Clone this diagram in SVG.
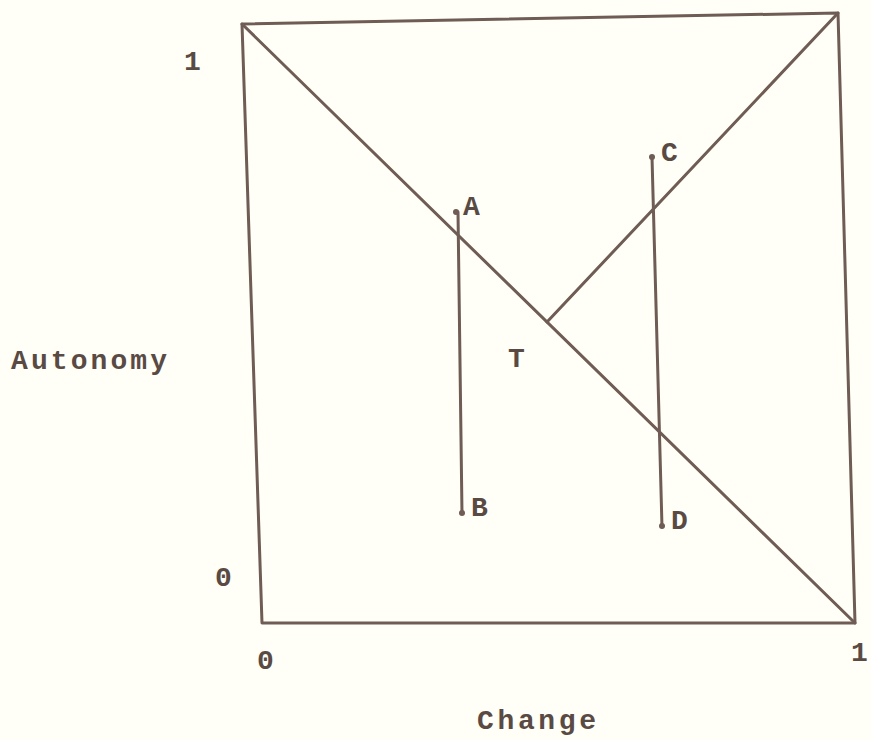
<svg xmlns="http://www.w3.org/2000/svg" width="871" height="740" viewBox="0 0 871 740">
<style>
.ln{stroke:#6e5c55;stroke-width:3;fill:none;stroke-linecap:round;stroke-linejoin:round}
.lb{font-family:"Liberation Mono","DejaVu Sans Mono",monospace;fill:#5a4a44;font-size:28px;font-weight:bold}
.pt{fill:#6e5c55}
</style>
<rect width="871" height="740" fill="#fffff7"/>
<g id="frame">
<path class="ln" d="M242,24 L838,13 L855,623 L262,623 Z"/>
</g>
<g id="connectors">
<line class="ln" x1="242" y1="24" x2="855" y2="623"/>
<line class="ln" x1="547" y1="322" x2="838" y2="13"/>
<line class="ln" x1="458" y1="212" x2="462" y2="513"/>
<line class="ln" x1="652" y1="157" x2="662" y2="527"/>
</g>
<g id="A"><circle class="pt" cx="456" cy="212" r="3"/><text class="lb" x="463" y="215">A</text></g>
<g id="B"><circle class="pt" cx="462" cy="513" r="3"/><text class="lb" x="471" y="516">B</text></g>
<g id="C"><circle class="pt" cx="652" cy="157" r="3"/><text class="lb" x="661" y="161">C</text></g>
<g id="D"><circle class="pt" cx="662" cy="526" r="3"/><text class="lb" x="671" y="529">D</text></g>
<g id="T"><text class="lb" x="508" y="367">T</text></g>
<g id="axis-labels">
<text class="lb" x="184" y="70" font-size="33">1</text>
<text class="lb" x="215" y="586" font-size="33">0</text>
<text class="lb" x="257" y="669" font-size="33">0</text>
<text class="lb" x="851" y="661" font-size="33">1</text>
<text class="lb" x="11" y="369" font-size="30" textLength="156" lengthAdjust="spacing">Autonomy</text>
<text class="lb" x="477" y="729" font-size="30" textLength="119" lengthAdjust="spacing">Change</text>
</g>
</svg>
